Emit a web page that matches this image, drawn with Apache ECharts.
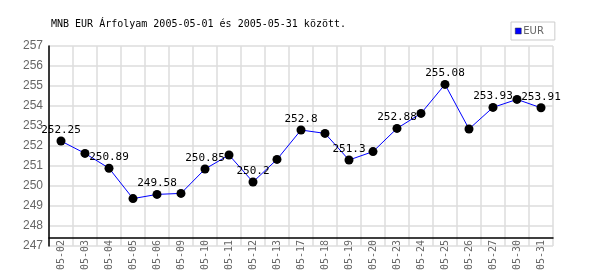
<!DOCTYPE html>
<html><head><meta charset="utf-8">
<script src="https://cdn.jsdelivr.net/npm/echarts@6/dist/echarts.min.js"></script>
<style>html,body{margin:0;padding:0;background:#fff}#c{width:600px;height:270px}</style>
</head><body><div id="c"></div>
<script>
const titleText = 'MNB EUR Árfolyam 2005-05-01 és 2005-05-31 között.';
const seriesName = 'EUR';
const categories = ['05-02','05-03','05-04','05-05','05-06','05-09','05-10','05-11','05-12','05-13','05-17','05-18','05-19','05-20','05-23','05-24','05-25','05-26','05-27','05-30','05-31'];
const values = [252.25,251.63,250.89,249.37,249.58,249.63,250.85,251.55,250.2,251.33,252.8,252.63,251.3,251.72,252.88,253.63,255.08,252.85,253.93,254.33,253.91];
const yMin = 247, yMax = 257, yStep = 1;

const chart = echarts.init(document.getElementById('c'), null, {renderer:'canvas'});
chart.setOption({
  animation:false,
  backgroundColor:'#fff',
  title:{text:titleText,left:51,top:19,padding:0,textStyle:{fontFamily:'DejaVu Sans Mono',fontSize:10,fontWeight:'normal',color:'#000'}},
  legend:{left:511,top:22,orient:'vertical',borderColor:'#ccc',borderWidth:1,padding:[4,11,4,4],itemWidth:6,itemHeight:6,itemGap:2,icon:'rect',
    textStyle:{color:'#666',fontSize:10,fontFamily:'DejaVu Sans',padding:[0,0,0,-3]},
    data:[{name:seriesName,itemStyle:{color:'#0000ff',borderColor:'#333',borderWidth:0.5}}]},
  grid:{left:49,right:47,top:46,bottom:24,containLabel:false,outerBoundsMode:'none'},
  xAxis:{type:'category',data:categories,boundaryGap:true,offset:-8,
    axisLine:{lineStyle:{color:'#000',width:1.5}},axisTick:{show:false},
    axisLabel:{rotate:90,margin:2,color:'#666',fontFamily:'DejaVu Sans Mono',fontSize:10,interval:0},
    splitLine:{show:true,interval:0,lineStyle:{color:'#ddd',width:1.5}}},
  yAxis:{type:'value',min:yMin,max:yMax,interval:yStep,
    axisLine:{show:true,lineStyle:{color:'#000',width:1.5}},axisTick:{show:false},
    axisLabel:{color:'#666',fontFamily:'Liberation Sans',fontSize:12,margin:6},
    splitLine:{lineStyle:{color:'#ddd',width:1.5}}},
  series:[{name:seriesName,type:'line',data:values,color:'#0000ff',
    lineStyle:{color:'#0000ff',width:1},
    symbol:'circle',symbolSize:9,itemStyle:{color:'#000'},
    label:{show:true,position:'top',distance:1,color:'#000',fontFamily:'DejaVu Sans Mono',fontSize:11,
      formatter:p=> p.dataIndex%2===0 ? String(p.value) : ''},
    labelLayout:{hideOverlap:false}}]
});
</script></body></html>
